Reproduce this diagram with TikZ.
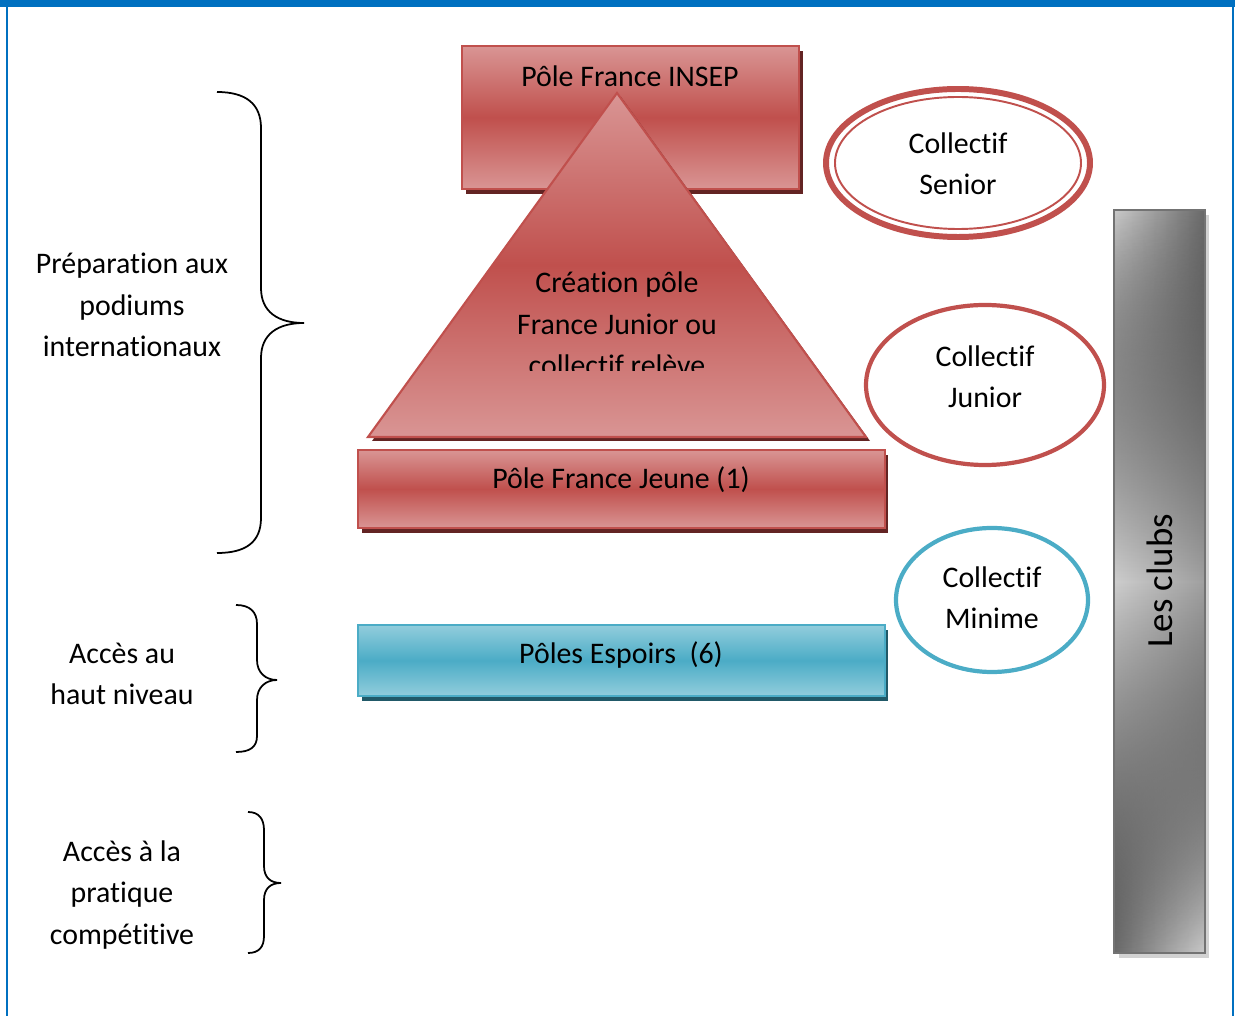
\documentclass[tikz,border=0pt]{standalone}
\usepackage{fontspec}
\setmainfont{Carlito}[Ligatures=NoCommon]
\usetikzlibrary{fadings}

\definecolor{redmid}{HTML}{C0504D}
\definecolor{redlite}{HTML}{D99594}
\definecolor{redshad}{HTML}{632423}
\definecolor{bluemid}{HTML}{4BACC6}
\definecolor{bluelite}{HTML}{92CDDC}
\definecolor{blueshad}{HTML}{215968}
\definecolor{frameblue}{HTML}{0070C0}
\definecolor{graylite}{HTML}{CDCDCD}
\definecolor{graydark}{HTML}{6A6A6A}

\tikzfading[name=midband, top color=transparent!100, bottom color=transparent!100, middle color=transparent!0]

\tikzset{
  redbox/.style={draw=redmid, line width=1.2pt, top color=redlite, bottom color=redlite, middle color=redmid},
  bluebox/.style={draw=bluemid, line width=1.2pt, top color=bluelite, bottom color=bluelite, middle color=bluemid},
  label/.style={font=\fontsize{17}{23.5}\selectfont, align=center, text=black},
  brace/.style={line width=1pt, black},
}

\begin{document}
\begin{tikzpicture}[x=0.02cm, y=-0.02cm]
	\useasboundingbox (0,0) rectangle (1235,1016);
	% frame
	\fill[frameblue] (0,0) rectangle (1235,7);
	\draw[frameblue, line width=1.6pt] (7,0) -- (7,1016);
	\draw[frameblue, line width=1.2pt] (1233,0) -- (1233,1016);

	% pyramid
	\fill[redshad] (466,51) rectangle (803,194);
	\path[redbox] (462,46) rectangle (799,189);
	\fill[redshad] (372,441) -- (621,97) -- (870,441) -- cycle;
	\path[redbox] (368,437) -- (617,93) -- (866,437) -- cycle;
	\node[label] (insep) at (630,76) {Pôle France INSEP};
	\begin{scope}
		\clip (300,90) rectangle (900,371);
		\node[label] (creation) at (617,324) {Création pôle\\France Junior ou\\collectif relève};
	\end{scope}
	\fill[redshad] (362,455) rectangle (888,533);
	\path[redbox] (358,450) rectangle (885,528);
	\node[label] (jeune) at (621,480) {Pôle France Jeune (1)};
	\fill[blueshad] (362,630) rectangle (888,701);
	\path[bluebox] (358,625) rectangle (885,696);
	\node[label] (espoirs) at (621,655) {Pôles Espoirs~~(6)};

	% collectifs
	\draw[redmid, line width=3.4pt] (958,163) ellipse (132 and 74);
	\draw[redmid, line width=1.1pt] (958,163) ellipse (123 and 66);
	\node[label] (senior) at (958,164) {Collectif\\Senior};
	\draw[redmid, line width=2.4pt] (985,385) ellipse (119 and 80);
	\node[label] (junior) at (985,377) {Collectif\\Junior};
	\draw[bluemid, line width=2.4pt] (992,600) ellipse (96 and 72);
	\node[label] (minime) at (992,598) {Collectif\\Minime};

	% clubs
	\fill[gray!35] (1119,215) rectangle (1209,958);
	\fill[left color=graylite, right color=graydark] (1114,210) rectangle (1205,953);
	\fill[left color=graydark, right color=graylite, path fading=north] (1114,210) rectangle (1205,953);
	\fill[left color=graylite, right color=gray!75, path fading=midband] (1114,210) rectangle (1205,953);
	\draw[gray!90!black, line width=1.4pt] (1114,210) rectangle (1205,953);
	\node[label, font=\fontsize{21}{25}\selectfont, rotate=90] (clubs) at (1160,581) {Les clubs};

	% niveaux
	\draw[brace] (217,92) .. controls (246,92) and (261,104) .. (261,128) -- (261,288) .. controls (261,312) and (278,323) .. (304,323) .. controls (278,323) and (261,334) .. (261,358) -- (261,518) .. controls (261,542) and (246,553) .. (217,553);
	\node[label] (prepa) at (132,305) {Préparation aux\\podiums\\internationaux};
	\draw[brace] (236,605) .. controls (250,605) and (257,612) .. (257,624) -- (257,660) .. controls (257,673) and (266,680) .. (277,680) .. controls (266,680) and (257,687) .. (257,700) -- (257,736) .. controls (257,747) and (250,752) .. (236,752);
	\node[label] (acces) at (122,674) {Accès au\\haut niveau};
	\draw[brace] (248,812) .. controls (259,812) and (264,819) .. (264,830) -- (264,866) .. controls (264,878) and (271,883) .. (281,883) .. controls (271,883) and (264,888) .. (264,900) -- (264,936) .. controls (264,947) and (259,953) .. (248,953);
	\node[label] (pratique) at (122,895) {Accès à la\\pratique\\compétitive};
\end{tikzpicture}
\end{document}
